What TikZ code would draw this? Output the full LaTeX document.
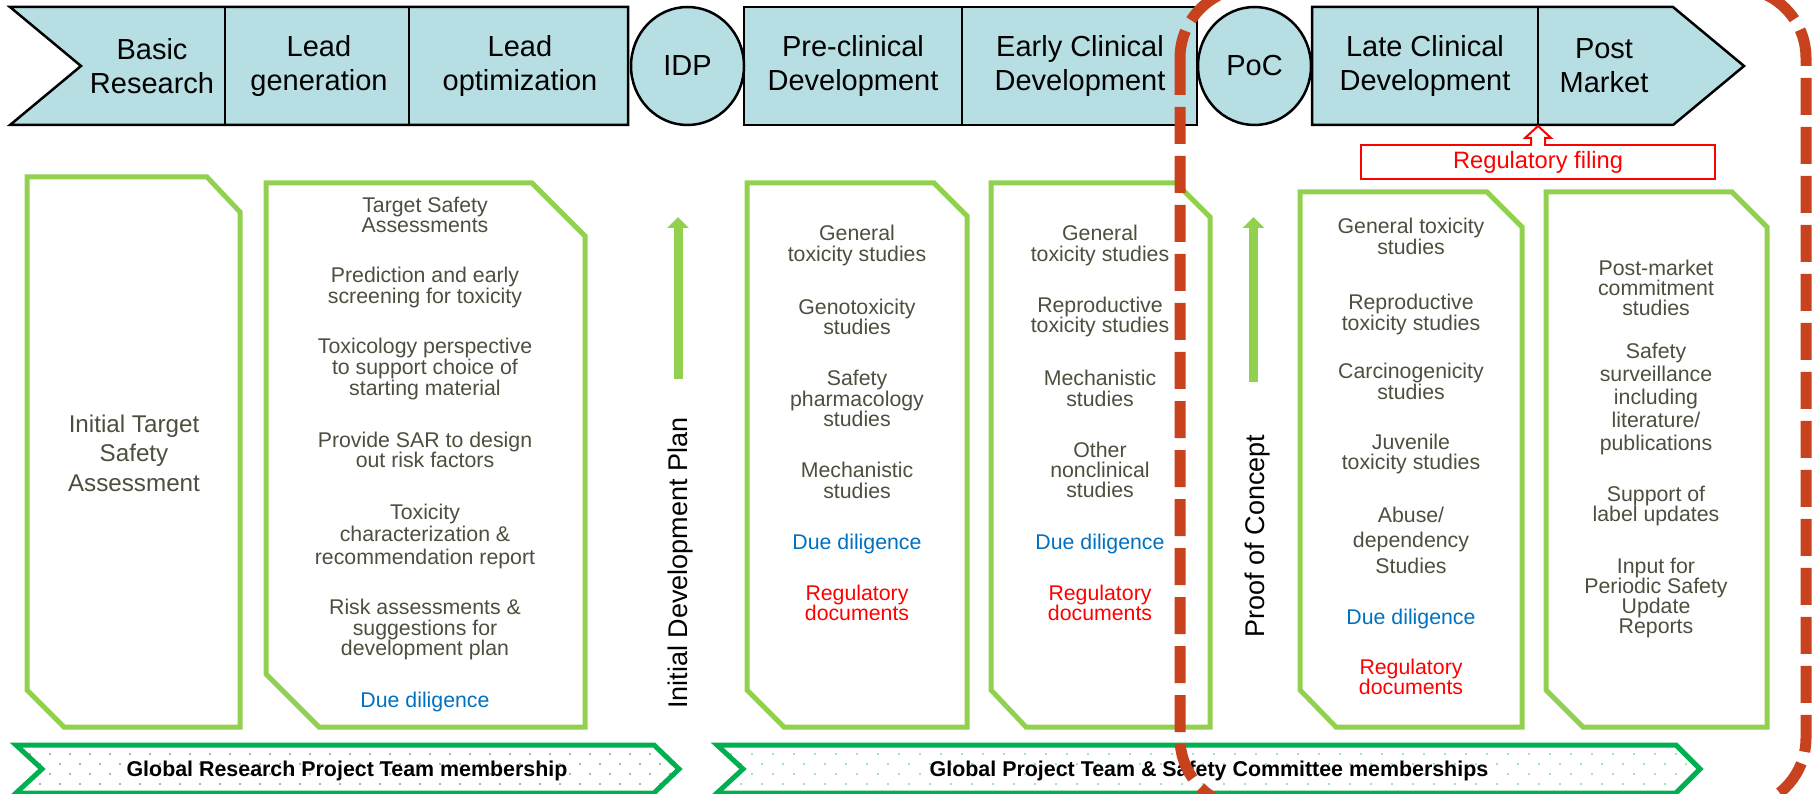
\documentclass[tikz,border=0pt]{standalone}
\usepackage{fontspec}
\setmainfont{Liberation Sans}
\usetikzlibrary{shapes.geometric,arrows.meta}

\definecolor{bannerblue}{RGB}{183,223,227}
\definecolor{boxgreen}{RGB}{146,208,80}
\definecolor{bargreen}{RGB}{0,176,80}
\definecolor{taskgray}{RGB}{78,78,62}
\definecolor{dueblue}{RGB}{0,112,192}
\definecolor{regred}{RGB}{255,0,0}
\definecolor{pocred}{RGB}{200,66,30}
\definecolor{dotbrown}{RGB}{170,150,110}
\definecolor{dotgreen}{RGB}{120,225,150}

\tikzset{
  banner/.style={draw=black, line width=2.5pt, fill=bannerblue},
  stageline/.style={draw=black, line width=2.5pt},
  stage/.style={font=\fontsize{29}{34}\selectfont, align=center, inner sep=0pt},
  milestone/.style={ellipse, draw=black, line width=2.5pt, fill=bannerblue, minimum width=113pt, minimum height=118pt, inner sep=0pt, font=\fontsize{29}{34}\selectfont},
  taskbox/.style={draw=boxgreen, line width=5pt},
  task/.style={font=\fontsize{21.3}{20.3}\selectfont, text=taskgray, align=center, inner sep=0pt},
  due/.style={task, text=dueblue},
  regdoc/.style={task, text=regred},
  gate/.style={font=\fontsize{27}{32}\selectfont, rotate=90, inner sep=0pt},
  uparrow/.style={boxgreen, line width=9pt, -{Triangle[width=21pt,length=11pt]}},
  member/.style={draw=bargreen, line width=5pt},
  membertext/.style={font=\fontsize{21.4}{24}\selectfont\bfseries, inner sep=0pt},
  pocline/.style={pocred, line width=11pt, dash pattern=on 37pt off 12pt, rounded corners=70pt}
}

\begin{document}
\begin{tikzpicture}[x=1pt,y=-1pt]
    \useasboundingbox (0,0) rectangle (1816,794);
    % stage banner
    \draw[banner] (10,7) -- (628,7) -- (628,125) -- (10,125) -- (81,66) -- cycle;
    \draw[stageline] (225,7) -- (225,125) (409,7) -- (409,125);
    \draw[banner] (744,7) rectangle (1197,125);
    \draw[stageline] (962,7) -- (962,125);
    \draw[banner] (1312,7) -- (1673,7) -- (1744,66) -- (1673,125) -- (1312,125) -- cycle;
    \draw[stageline] (1538,7) -- (1538,125);
    \node[milestone] (idp) at (687.5,66) {IDP};
    \node[milestone] (poc) at (1254.5,66) {PoC};
    \node[stage] (basic) at (152,66) {Basic\\Research};
    \node[stage] (leadgen) at (319,66) {Lead\\generation};
    \node[stage] (leadopt) at (520,66) {Lead\\optimization};
    \node[stage] (preclin) at (853,66) {Pre-clinical\\Development};
    \node[stage] (earlyclin) at (1080,66) {Early Clinical\\Development};
    \node[stage] (lateclin) at (1425,66) {Late Clinical\\Development};
    \node[stage] (postmkt) at (1604,66) {Post\\Market};

    % regulatory filing
    \node[draw=regred, line width=2pt, fill=white, minimum width=354pt, minimum height=34pt, inner sep=0pt, text=regred, font=\fontsize{23.7}{28}\selectfont] (filing) at (1538,162) {Regulatory filing};
    \coordinate (filingtip) at (1538,126);
    \fill[white] (1532,139) rectangle (1544,147);
    \draw[regred, line width=2pt] (1531,146) -- (1531,138) -- (1525,138) -- (filingtip) -- (1551,138) -- (1545,138) -- (1545,146);

    % task boxes
    \draw[taskbox] (27,177) -- (207,177) -- (240,212) -- (240,727) -- (64,727) -- (27,690) -- cycle;
    \draw[taskbox] (266,183) -- (532,183) -- (585,236) -- (585,727) -- (319,727) -- (266,674) -- cycle;
    \draw[taskbox] (747,183) -- (934,183) -- (967,216) -- (967,727) -- (784,727) -- (747,690) -- cycle;
    \draw[taskbox] (991,183) -- (1176,183) -- (1210,217) -- (1210,727) -- (1026,727) -- (991,690) -- cycle;
    \draw[taskbox] (1300,192) -- (1487,192) -- (1522,227) -- (1522,727) -- (1336,727) -- (1300,690) -- cycle;
    \draw[taskbox] (1546,192) -- (1732,192) -- (1767,227) -- (1767,727) -- (1583,727) -- (1546,690) -- cycle;

    \node[task, font=\fontsize{24.2}{29.5}\selectfont] (ita) at (134,453) {Initial Target\\Safety\\Assessment};

    \node[task] (tsa) at (425,215) {Target Safety\\Assessments};
    \node[task] (pred) at (425,287.6) {Prediction and early\\screening for toxicity};
    \node[task, font=\fontsize{21.3}{21}\selectfont] (toxper) at (425,368.6) {Toxicology perspective\\to support choice of\\starting material};
    \node[task] (sar) at (425,450) {Provide SAR to design\\out risk factors};
    \node[task, font=\fontsize{21.3}{22.5}\selectfont] (toxchar) at (425,536) {Toxicity\\characterization \&\\recommendation report};
    \node[task] (risk) at (425,629.6) {Risk assessments \&\\suggestions for\\development plan};
    \node[due] (due1) at (425,701.6) {Due diligence};

    \node[task] (gen1) at (857,245.5) {General\\toxicity studies};
    \node[task] (geno) at (857,316.9) {Genotoxicity\\studies};
    \node[task] (safpha) at (857,398.4) {Safety\\pharmacology\\studies};
    \node[task] (mech1) at (857,480.4) {Mechanistic\\studies};
    \node[due] (due2) at (857,543.6) {Due diligence};
    \node[regdoc] (reg1) at (857,602.9) {Regulatory\\documents};

    \node[task] (gen2) at (1100,245.5) {General\\toxicity studies};
    \node[task] (repro1) at (1100,316.9) {Reproductive\\toxicity studies};
    \node[task] (mech2) at (1100,388.4) {Mechanistic\\studies};
    \node[task] (other) at (1100,469.9) {Other\\nonclinical\\studies};
    \node[due] (due3) at (1100,543.6) {Due diligence};
    \node[regdoc] (reg2) at (1100,602.9) {Regulatory\\documents};

    \node[task] (gen3) at (1411,236.4) {General toxicity\\studies};
    \node[task] (repro2) at (1411,314.5) {Reproductive\\toxicity studies};
    \node[task] (carc) at (1411,381.5) {Carcinogenicity\\studies};
    \node[task] (juv) at (1411,454) {Juvenile\\toxicity studies};
    \node[task, font=\fontsize{21.3}{25.5}\selectfont] (abuse) at (1411,540) {Abuse/\\dependency\\Studies};
    \node[due] (due4) at (1411,618.6) {Due diligence};
    \node[regdoc] (reg3) at (1411,676.9) {Regulatory\\documents};

    \node[task] (pmc) at (1656,288) {Post-market\\commitment\\studies};
    \node[task, font=\fontsize{21.3}{23}\selectfont] (surv) at (1656,399) {Safety\\surveillance\\including\\literature/\\publications};
    \node[task] (label) at (1656,506) {Support of\\label updates};
    \node[task] (psur) at (1656,598) {Input for\\Periodic Safety\\Update\\Reports};

    % gates
    \coordinate (idpfoot) at (678,379);
    \coordinate (idptip) at (678,217);
    \draw[uparrow] (idpfoot) -- (idptip);
    \node[gate] (idplan) at (681,563) {Initial Development Plan};
    \coordinate (pocfoot) at (1253.5,382);
    \coordinate (poctip) at (1253.5,217);
    \draw[uparrow] (pocfoot) -- (poctip);
    \node[gate] (proof) at (1258,536) {Proof of Concept};

    % membership bars
    \begin{scope}
        \clip (16,745) -- (654,745) -- (679,769) -- (654,793) -- (16,793) -- (42,769) -- cycle;
        \foreach \x in {10,30,...,690}
            \foreach \y/\s in {754/0,764/10,774/0,784/10}
                \fill[dotbrown] (\x+\s,\y) circle (1.1);
    \end{scope}
    \draw[member] (16,745) -- (654,745) -- (679,769) -- (654,793) -- (16,793) -- (42,769) -- cycle;
    \node[membertext] (grpt) at (347,771) {Global Research Project Team membership};
    \begin{scope}
        \clip (717,745) -- (1676,745) -- (1700,769) -- (1676,793) -- (717,793) -- (743,769) -- cycle;
        \foreach \x in {710,731,...,1710}
            \foreach \y/\s in {754/0,764/10,774/0,784/10}
                \fill[dotgreen] (\x+\s,\y) circle (1.1);
    \end{scope}
    \draw[member] (717,745) -- (1676,745) -- (1700,769) -- (1676,793) -- (717,793) -- (743,769) -- cycle;
    \node[membertext] (gpt) at (1209,771) {Global Project Team \& Safety Committee memberships};

    % proof of concept boundary
    \begin{scope}
        \clip (0,0) rectangle (1816,794);
        \draw[pocline] (1180,-12) rectangle (1806,808);
    \end{scope}
\end{tikzpicture}
\end{document}
